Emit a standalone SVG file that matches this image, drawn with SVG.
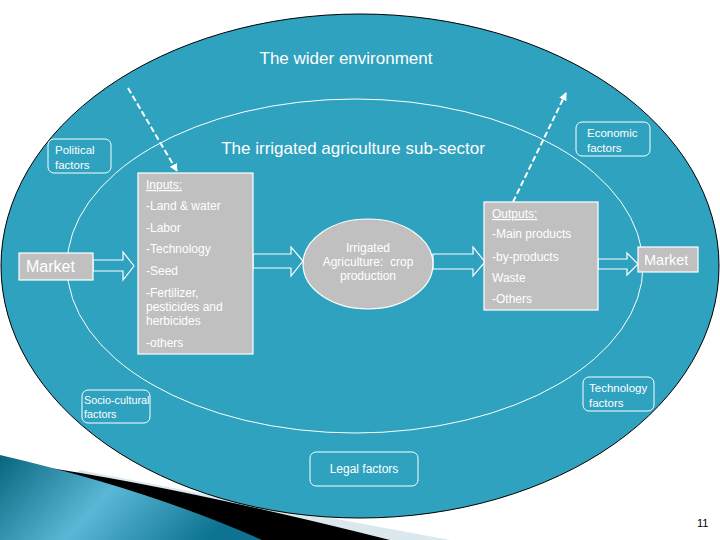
<svg xmlns="http://www.w3.org/2000/svg" width="720" height="540" viewBox="0 0 720 540">
<defs>
<linearGradient id="wedge" x1="0" y1="0" x2="1" y2="0.3">
<stop offset="0" stop-color="#08657f"/>
<stop offset="0.5" stop-color="#5ab8d6"/>
<stop offset="1" stop-color="#0d7390"/>
</linearGradient>
<marker id="ah" viewBox="0 0 10 10" refX="9" refY="5" markerWidth="4" markerHeight="4" orient="auto">
<path d="M0,0 L10,5 L0,10 Z" fill="#ffffff"/>
</marker>
<style>
text{font-family:"Liberation Sans",Arial,sans-serif;fill:#ffffff}
.fac{fill:none;stroke:#ffffff;stroke-width:1}
.box{fill:#c0c0c0;stroke:#ffffff;stroke-width:1.2}
.arr{fill:#2ea2bf;stroke:#ffffff;stroke-width:1.2}
.dash{stroke:#ffffff;stroke-width:2;stroke-dasharray:6 3;fill:none}
.s12{font-size:12px}
.s11{font-size:11.5px}
</style>
</defs>
<rect width="720" height="540" fill="#ffffff"/>
<g id="decoration">
<path d="M80,470 Q260,505 450,540 L0,540 Z" fill="#dbe8ee"/>
<path d="M30,465 Q180,487 390,540 L0,540 Z" fill="#000000"/>
<path d="M0,455 Q150,490 262,540 L0,540 Z" fill="url(#wedge)"/>
</g>
<g id="wider-environment">
<ellipse cx="360" cy="266" rx="359" ry="252" fill="#2ea2bf" stroke="#000000" stroke-width="1"/>
<text x="346" y="64" font-size="17" text-anchor="middle">The wider environment</text>
</g>
<g id="sub-sector">
<ellipse cx="355" cy="266" rx="288" ry="167" fill="none" stroke="#ffffff" stroke-width="1"/>
<text x="353" y="154" font-size="17" text-anchor="middle">The irrigated agriculture sub-sector</text>
</g>
<g id="connectors">
<line class="dash" x1="128" y1="88" x2="177" y2="171" marker-end="url(#ah)"/>
<line class="dash" x1="513" y1="202" x2="566" y2="93" marker-end="url(#ah)"/>
<polygon class="arr" points="93,260 123,260 123,252 134,266 123,280 123,271 93,271"/>
<polygon class="arr" points="253,254 291,254 291,247 303,261 291,276 291,268 253,268"/>
<polygon class="arr" points="433,254 473,254 473,247 485,262 473,276 473,269 433,269"/>
<polygon class="arr" points="598,259 627,259 627,253 638,264 627,275 627,269 598,269"/>
</g>
<g id="political">
<rect class="fac" x="48" y="139" width="63" height="34" rx="6"/>
<text class="s11" x="55" y="154">Political</text>
<text class="s11" x="55" y="169">factors</text>
</g>
<g id="economic">
<rect class="fac" x="576" y="122" width="74" height="34" rx="6"/>
<text class="s11" x="587" y="137">Economic</text>
<text class="s11" x="587" y="152">factors</text>
</g>
<g id="socio-cultural">
<rect class="fac" x="82" y="390" width="68" height="33" rx="6"/>
<text x="84" y="404" font-size="10.8">Socio-cultural</text>
<text x="84" y="418" font-size="10.8">factors</text>
</g>
<g id="technology">
<rect class="fac" x="583" y="377" width="71" height="34" rx="6"/>
<text class="s11" x="589" y="392">Technology</text>
<text class="s11" x="589" y="407">factors</text>
</g>
<g id="legal">
<rect class="fac" x="310" y="452" width="108" height="34" rx="6"/>
<text class="s12" x="364" y="473" text-anchor="middle">Legal factors</text>
</g>
<g id="market-left">
<rect class="box" x="19" y="253" width="74" height="27"/>
<text x="26" y="272" font-size="16">Market</text>
</g>
<g id="inputs">
<rect class="box" x="138" y="173" width="115" height="181"/>
<text class="s12" x="146" y="189" text-decoration="underline">Inputs:</text>
<text class="s12" x="146" y="210">-Land &amp; water</text>
<text class="s12" x="146" y="232">-Labor</text>
<text class="s12" x="146" y="253">-Technology</text>
<text class="s12" x="146" y="275">-Seed</text>
<text class="s12" x="146" y="297">-Fertilizer,</text>
<text class="s12" x="146" y="311">pesticides and</text>
<text class="s12" x="146" y="325">herbicides</text>
<text class="s12" x="146" y="347">-others</text>
</g>
<g id="production">
<ellipse cx="368" cy="264" rx="65" ry="45" fill="#c0c0c0" stroke="#ffffff" stroke-width="1.2"/>
<text class="s12" x="368" y="252" text-anchor="middle">Irrigated</text>
<text class="s12" x="368" y="266" text-anchor="middle">Agriculture:&#160; crop</text>
<text class="s12" x="368" y="280" text-anchor="middle">production</text>
</g>
<g id="outputs">
<rect class="box" x="484" y="202" width="114" height="108"/>
<text class="s12" x="492" y="218" text-decoration="underline">Outputs:</text>
<text class="s12" x="492" y="238">-Main products</text>
<text class="s12" x="492" y="261">-by-products</text>
<text class="s12" x="492" y="282">Waste</text>
<text class="s12" x="492" y="303">-Others</text>
</g>
<g id="market-right">
<rect class="box" x="638" y="247" width="60" height="25"/>
<text x="644" y="265" font-size="14.5">Market</text>
</g>
<text x="697" y="527" font-size="11" style="fill:#000000">11</text>
</svg>
